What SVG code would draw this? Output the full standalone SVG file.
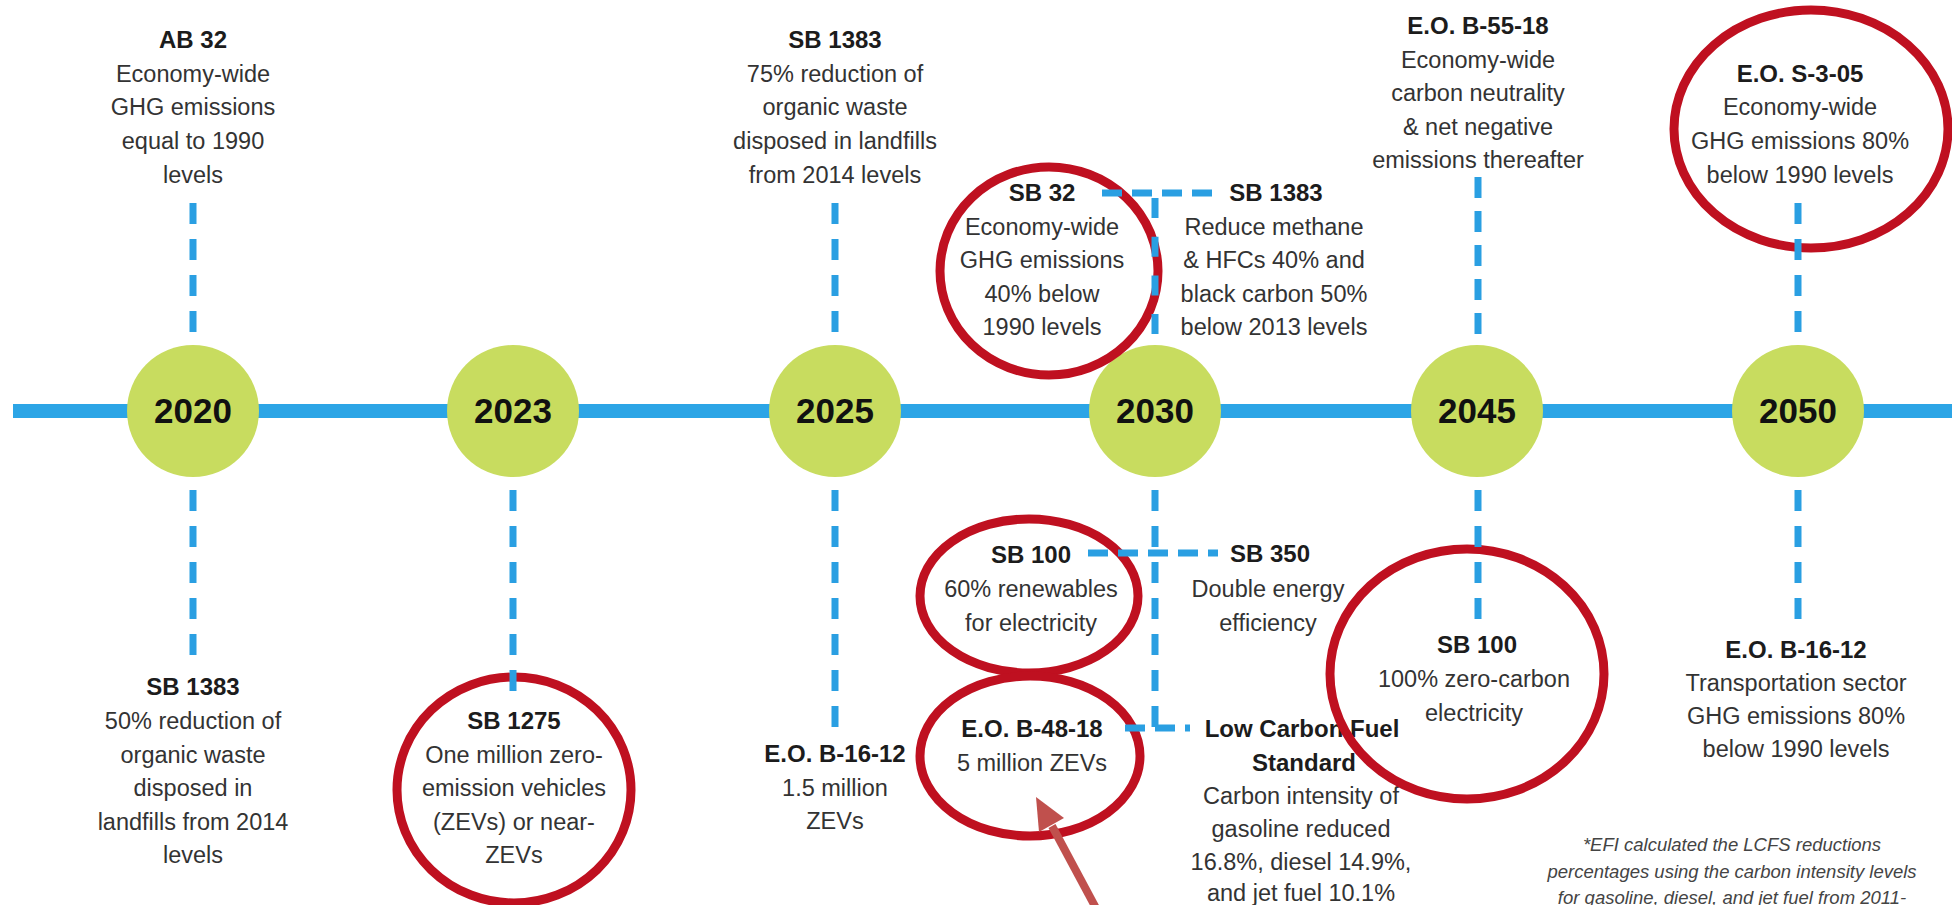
<svg xmlns="http://www.w3.org/2000/svg" width="1952" height="905" viewBox="0 0 1952 905">
<style>
text{font-family:"Liberation Sans",Arial,sans-serif;text-anchor:middle}
.t{font-size:24px;font-weight:bold;fill:#1c1c1c}
.b{font-size:23.5px;fill:#333}
.yr{font-size:35px;font-weight:bold;fill:#111}
.yc{fill:#c8dc5f}
.vd{stroke:#2a9fe2;stroke-width:7;stroke-dasharray:21 15;fill:none}
.hd{stroke:#2a9fe2;stroke-width:7;stroke-dasharray:20 10;fill:none}
.hl{fill:none;stroke:#bf1020;stroke-width:9}
.fn{font-size:18.5px;font-style:italic;fill:#444}
</style>
<rect width="1952" height="905" fill="#fff"/>
<rect x="13" y="404" width="1939" height="14" fill="#2ca5e6"/>

<g id="y2020"><circle class="yc" cx="193" cy="411" r="66"/><text class="yr" x="193" y="423">2020</text></g>
<g id="y2023"><circle class="yc" cx="513" cy="411" r="66"/><text class="yr" x="513" y="423">2023</text></g>
<g id="y2025"><circle class="yc" cx="835" cy="411" r="66"/><text class="yr" x="835" y="423">2025</text></g>
<g id="y2030"><circle class="yc" cx="1155" cy="411" r="66"/><text class="yr" x="1155" y="423">2030</text></g>
<g id="y2045"><circle class="yc" cx="1477" cy="411" r="66"/><text class="yr" x="1477" y="423">2045</text></g>
<g id="y2050"><circle class="yc" cx="1798" cy="411" r="66"/><text class="yr" x="1798" y="423">2050</text></g>

<g id="ab32">
<text class="t" x="193" y="48">AB 32</text>
<text class="b" x="193" y="82">Economy-wide</text>
<text class="b" x="193" y="115">GHG emissions</text>
<text class="b" x="193" y="149">equal to 1990</text>
<text class="b" x="193" y="183">levels</text>
</g>
<g id="sb1383-2025">
<text class="t" x="835" y="48">SB 1383</text>
<text class="b" x="835" y="82">75% reduction of</text>
<text class="b" x="835" y="115">organic waste</text>
<text class="b" x="835" y="149">disposed in landfills</text>
<text class="b" x="835" y="183">from 2014 levels</text>
</g>
<g id="sb32">
<text class="t" x="1042" y="201">SB 32</text>
<text class="b" x="1042" y="235">Economy-wide</text>
<text class="b" x="1042" y="268">GHG emissions</text>
<text class="b" x="1042" y="302">40% below</text>
<text class="b" x="1042" y="335">1990 levels</text>
</g>
<g id="sb1383-2030">
<text class="t" x="1276" y="201">SB 1383</text>
<text class="b" x="1274" y="235">Reduce methane</text>
<text class="b" x="1274" y="268">&amp; HFCs 40% and</text>
<text class="b" x="1274" y="302">black carbon 50%</text>
<text class="b" x="1274" y="335">below 2013 levels</text>
</g>
<g id="eob5518">
<text class="t" x="1478" y="34">E.O. B-55-18</text>
<text class="b" x="1478" y="68">Economy-wide</text>
<text class="b" x="1478" y="101">carbon neutrality</text>
<text class="b" x="1478" y="135">&amp; net negative</text>
<text class="b" x="1478" y="168">emissions thereafter</text>
</g>
<g id="eos305">
<text class="t" x="1800" y="82">E.O. S-3-05</text>
<text class="b" x="1800" y="115">Economy-wide</text>
<text class="b" x="1800" y="149">GHG emissions 80%</text>
<text class="b" x="1800" y="183">below 1990 levels</text>
</g>

<g id="sb1383-2020">
<text class="t" x="193" y="695">SB 1383</text>
<text class="b" x="193" y="729">50% reduction of</text>
<text class="b" x="193" y="763">organic waste</text>
<text class="b" x="193" y="796">disposed in</text>
<text class="b" x="193" y="830">landfills from 2014</text>
<text class="b" x="193" y="863">levels</text>
</g>
<g id="sb1275">
<text class="t" x="514" y="729">SB 1275</text>
<text class="b" x="514" y="763">One million zero-</text>
<text class="b" x="514" y="796">emission vehicles</text>
<text class="b" x="514" y="830">(ZEVs) or near-</text>
<text class="b" x="514" y="863">ZEVs</text>
</g>
<g id="eob1612-2025">
<text class="t" x="835" y="762">E.O. B-16-12</text>
<text class="b" x="835" y="796">1.5 million</text>
<text class="b" x="835" y="829">ZEVs</text>
</g>
<g id="sb100-2030">
<text class="t" x="1031" y="563">SB 100</text>
<text class="b" x="1031" y="597">60% renewables</text>
<text class="b" x="1031" y="631">for electricity</text>
</g>
<g id="sb350">
<text class="t" x="1270" y="562">SB 350</text>
<text class="b" x="1268" y="597">Double energy</text>
<text class="b" x="1268" y="631">efficiency</text>
</g>
<g id="eob4818">
<text class="t" x="1032" y="737">E.O. B-48-18</text>
<text class="b" x="1032" y="771">5 million ZEVs</text>
</g>
<g id="lcfs">
<text class="t" x="1302" y="737">Low Carbon Fuel</text>
<text class="t" x="1304" y="771">Standard</text>
<text class="b" x="1301" y="804">Carbon intensity of</text>
<text class="b" x="1301" y="837">gasoline reduced</text>
<text class="b" x="1301" y="870">16.8%, diesel 14.9%,</text>
<text class="b" x="1301" y="901">and jet fuel 10.1%</text>
</g>
<g id="sb100-2045">
<text class="t" x="1477" y="653">SB 100</text>
<text class="b" x="1474" y="687">100% zero-carbon</text>
<text class="b" x="1474" y="721">electricity</text>
</g>
<g id="eob1612-2050">
<text class="t" x="1796" y="658">E.O. B-16-12</text>
<text class="b" x="1796" y="691">Transportation sector</text>
<text class="b" x="1796" y="724">GHG emissions 80%</text>
<text class="b" x="1796" y="757">below 1990 levels</text>
</g>
<g id="footnote">
<text class="fn" x="1732" y="851">*EFI calculated the LCFS reductions</text>
<text class="fn" x="1732" y="878">percentages using the carbon intensity levels</text>
<text class="fn" x="1732" y="904">for gasoline, diesel, and jet fuel from 2011-</text>
</g>

<g id="highlights">
<ellipse class="hl" cx="1049" cy="271" rx="109" ry="104"/>
<ellipse class="hl" cx="1811" cy="129" rx="137" ry="119"/>
<ellipse class="hl" cx="514" cy="790" rx="117" ry="113"/>
<ellipse class="hl" cx="1029" cy="596" rx="109" ry="77"/>
<ellipse class="hl" cx="1030" cy="756" rx="110" ry="80"/>
<ellipse class="hl" cx="1467" cy="674" rx="137" ry="125"/>
</g>

<g id="connectors">
<line class="vd" x1="193" y1="203" x2="193" y2="332"/>
<line class="vd" x1="835" y1="203" x2="835" y2="332"/>
<line class="vd" x1="1798" y1="203" x2="1798" y2="332"/>
<line class="vd" x1="1478" y1="177" x2="1478" y2="334" style="stroke-dasharray:21 13"/>
<line class="vd" x1="1155" y1="198" x2="1155" y2="334" style="stroke-dasharray:20 18.7"/>
<line class="hd" x1="1102" y1="193" x2="1214" y2="193"/>
<line class="vd" x1="193" y1="490" x2="193" y2="655"/>
<line class="vd" x1="513" y1="490" x2="513" y2="691"/>
<line class="vd" x1="835" y1="490" x2="835" y2="727"/>
<line class="vd" x1="1155" y1="490" x2="1155" y2="727"/>
<line class="vd" x1="1478" y1="490" x2="1478" y2="619"/>
<line class="vd" x1="1798" y1="490" x2="1798" y2="619"/>
<line class="hd" x1="1088" y1="553" x2="1218" y2="553"/>
<line class="hd" x1="1125" y1="728" x2="1190" y2="728"/>
</g>

<g id="arrow">
<line x1="1097" y1="910" x2="1052" y2="826" stroke="#c0504d" stroke-width="8"/>
<polygon points="1036,797 1064,818 1039,832" fill="#c0504d"/>
</g>
</svg>
